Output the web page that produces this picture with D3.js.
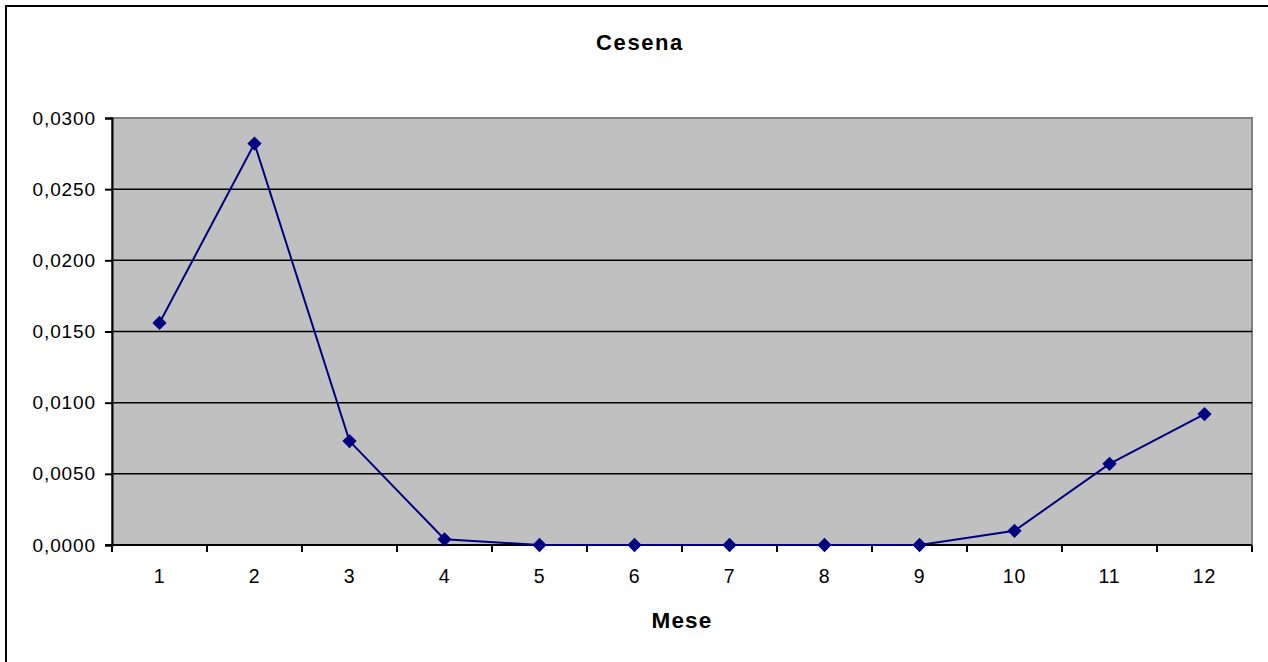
<!DOCTYPE html>
<html>
<head>
<meta charset="utf-8">
<script src="https://cdn.jsdelivr.net/npm/d3@7"></script>
<style>
  html, body { margin: 0; padding: 0; background: #fff; }
  svg { display: block; font-family: "Liberation Sans", Arial, sans-serif; }
</style>
</head>
<body>
<svg id="chart" width="1268" height="662"></svg>
<script>
const months = ["1","2","3","4","5","6","7","8","9","10","11","12"];
const values = [0.0156, 0.0282, 0.0073, 0.0004, 0.0000, 0.0000, 0.0000, 0.0000, 0.0000, 0.0010, 0.0057, 0.0092];
const yTicks = [0, 0.005, 0.010, 0.015, 0.020, 0.025, 0.030];
const title = "Cesena";
const xTitle = "Mese";

const svg = d3.select("#chart");
const plot = { left: 112, right: 1252, top: 118, bottom: 545 };

// outer chart border (partially cropped in reference)
svg.append("rect")
  .attr("x", 6).attr("y", 6)
  .attr("width", 1280).attr("height", 700)
  .attr("fill", "#fff").attr("stroke", "#000").attr("stroke-width", 2);

const x = d3.scaleBand().domain(months).range([plot.left, plot.right]).padding(0);
const y = d3.scaleLinear().domain([0, 0.03]).range([plot.bottom, plot.top]);

// plot area
svg.append("rect")
  .attr("x", plot.left).attr("y", plot.top)
  .attr("width", plot.right - plot.left).attr("height", plot.bottom - plot.top)
  .attr("fill", "#C0C0C0").attr("stroke", "#808080").attr("stroke-width", 2);

// gridlines
svg.append("g").selectAll("line").data(yTicks.filter(d => d > 0 && d < 0.03)).join("line")
  .attr("x1", plot.left).attr("x2", plot.right)
  .attr("y1", d => y(d)).attr("y2", d => y(d))
  .attr("stroke", "#000").attr("stroke-width", 1.5);

// y axis
const fmt = d => d.toFixed(4).replace(".", ",");
const yAxis = svg.append("g")
  .attr("transform", `translate(${plot.left},0)`)
  .call(d3.axisLeft(y).tickValues(yTicks).tickFormat(fmt).tickSize(7).tickPadding(9));
yAxis.select(".domain").attr("stroke", "#000").attr("stroke-width", 2);
yAxis.selectAll(".tick line").attr("stroke", "#000").attr("stroke-width", 2);
yAxis.selectAll(".tick text")
  .attr("fill", "#000")
  .style("font-size", "19px")
  .style("letter-spacing", "0.9px")
  .style("font-family", "'Liberation Sans', Arial, sans-serif");

// x axis: labels at band centres
const xAxis = svg.append("g")
  .attr("transform", `translate(0,${plot.bottom})`)
  .call(d3.axisBottom(x).tickSize(0).tickPadding(24));
xAxis.select(".domain").remove();
xAxis.selectAll(".tick text")
  .attr("fill", "#000")
  .style("font-size", "19.5px")
  .style("letter-spacing", "0.8px")
  .style("font-family", "'Liberation Sans', Arial, sans-serif");

// x axis line and boundary ticks
svg.append("line")
  .attr("x1", plot.left - 7).attr("x2", plot.right)
  .attr("y1", plot.bottom).attr("y2", plot.bottom)
  .attr("stroke", "#000").attr("stroke-width", 2);
const bounds = months.map(m => x(m)).concat([x(months[months.length - 1]) + x.bandwidth()]);
svg.append("g").selectAll("line").data(bounds).join("line")
  .attr("x1", d => d).attr("x2", d => d)
  .attr("y1", plot.bottom).attr("y2", plot.bottom + 7)
  .attr("stroke", "#000").attr("stroke-width", 2);

// line
const line = d3.line()
  .x((d, i) => x(months[i]) + x.bandwidth() / 2)
  .y(d => y(d));
svg.append("path").datum(values)
  .attr("d", line)
  .attr("fill", "none").attr("stroke", "#000080").attr("stroke-width", 2);

// markers
const diamond = d3.symbol().type(d3.symbolDiamond2).size(130);
svg.append("g").selectAll("path").data(values).join("path")
  .attr("d", diamond)
  .attr("transform", (d, i) => `translate(${x(months[i]) + x.bandwidth() / 2},${y(d)})`)
  .attr("fill", "#000080");

// titles
svg.append("text")
  .attr("x", 640).attr("y", 50)
  .attr("text-anchor", "middle")
  .style("font-size", "22px").style("font-weight", "bold").style("letter-spacing", "1.6px")
  .text(title);
svg.append("text")
  .attr("x", (plot.left + plot.right) / 2).attr("y", 628)
  .attr("text-anchor", "middle")
  .style("font-size", "22.5px").style("font-weight", "bold").style("letter-spacing", "1.2px")
  .text(xTitle);
</script>
</body>
</html>
